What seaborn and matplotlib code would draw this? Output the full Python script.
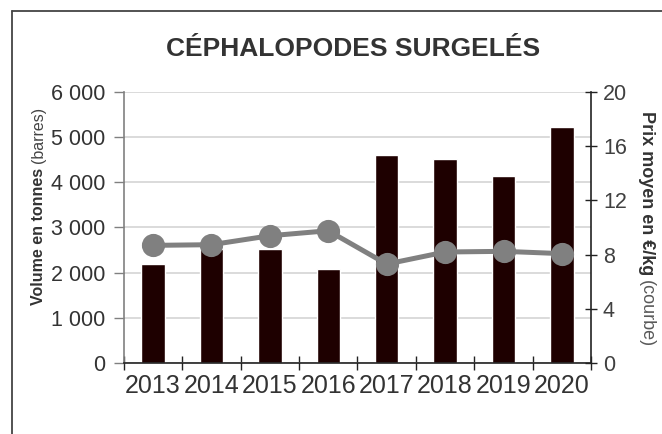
import matplotlib
matplotlib.use("Agg")
import matplotlib.pyplot as plt
import matplotlib.lines as mlines
import seaborn as sns

# données
annees = ["2013", "2014", "2015", "2016", "2017", "2018", "2019", "2020"]
volume_tonnes = [2200, 2530, 2530, 2090, 4600, 4510, 4130, 5235]
prix_kg = [8.68, 8.73, 9.39, 9.76, 7.30, 8.19, 8.24, 8.07]

sns.set_theme(style="white")
plt.rcParams["font.family"] = ["Liberation Sans", "DejaVu Sans"]

W, H = 662, 434
fig = plt.figure(figsize=(W / 100, H / 100), dpi=100)
ax = fig.add_axes([0.187, 0.1636, 0.706, 0.6245])

# barres : volume
sns.barplot(x=annees, y=volume_tonnes, ax=ax, color="#1e0000",
            width=0.4, saturation=1, zorder=2)
ax.set_ylim(0, 6000)
ax.set_yticks(range(0, 6001, 1000))
ax.set_yticklabels([f"{v:,}".replace(",", " ") for v in range(0, 6001, 1000)],
                   fontsize=15.5, color="#333333")
ax.grid(axis="y", color="#d4d4d4", linewidth=1.2, zorder=0)
ax.set_axisbelow(True)
ax.set_xlim(-0.5, 7.5)

# ticks x aux limites des catégories, libellés au centre
ax.set_xticks([i - 0.5 for i in range(9)])
ax.set_xticklabels([])
ax.set_xticks(range(8), minor=True)
ax.set_xticklabels(annees, minor=True, fontsize=18, color="#333333")
ax.tick_params(axis="x", which="major", direction="inout", length=10,
               width=1, color="#222222", bottom=True)
ax.tick_params(axis="x", which="minor", length=0, pad=8)
ax.tick_params(axis="y", direction="out", length=7, width=1,
               color="#808080", left=True, pad=6)
ax.set_xlabel("")

for s in ["top", "right"]:
    ax.spines[s].set_visible(False)
ax.spines["left"].set_color("#808080")
ax.spines["left"].set_linewidth(1.2)
ax.spines["bottom"].set_color("#222222")
ax.spines["bottom"].set_linewidth(1.2)

# courbe : prix moyen
ax2 = ax.twinx()
sns.pointplot(x=annees, y=prix_kg, ax=ax2, color="#808080",
              markersize=14, linewidth=3.6, zorder=3)
ax2.set_ylim(0, 20)
ax2.set_yticks(range(0, 21, 4))
ax2.set_yticklabels([str(v) for v in range(0, 21, 4)], fontsize=15.5,
                    color="#404040")
ax2.tick_params(axis="y", direction="inout", length=9, width=1,
                color="#222222", right=True, pad=4)
ax2.set_xlim(-0.5, 7.5)
ax2.grid(False)
for s in ["top", "left", "bottom"]:
    ax2.spines[s].set_visible(False)
ax2.spines["right"].set_color("#222222")
ax2.spines["right"].set_linewidth(1.2)

fig.suptitle("CÉPHALOPODES SURGELÉS", x=0.533, y=0.915, fontsize=19,
             fontweight="bold", color="#333333")

# titres des axes : partie grasse + partie normale, collées l'une à l'autre
def titre_axe(x, yc, gras, normal, rot, size, col_norm):
    t1 = fig.text(x, 0.5, gras, rotation=rot, fontsize=size, fontweight="bold",
                  color="#333333", ha="center", va="center")
    t2 = fig.text(x, 0.5, normal, rotation=rot, fontsize=size,
                  color=col_norm, ha="center", va="center")
    fig.canvas.draw()
    r = fig.canvas.get_renderer()
    h1 = t1.get_window_extent(r).height
    h2 = t2.get_window_extent(r).height
    gap = size * 0.35
    total = h1 + h2 + gap
    top = yc * H + total / 2
    if rot == 90:
        # lecture de bas en haut : gras en bas
        t1.set_y((top - total + h1 / 2) / H)
        t2.set_y((top - h2 / 2) / H)
    else:
        t1.set_y((top - h1 / 2) / H)
        t2.set_y((top - total + h2 / 2) / H)

titre_axe(0.058, 1 - 206 / H, "Volume en tonnes", "(barres)", 90, 11.5, "#444444")
titre_axe(0.977, 1 - 229 / H, "Prix moyen en €/kg", "(courbe)", -90, 13, "#595959")

# cadre partiel autour du graphique
fig.add_artist(mlines.Line2D([12 / W, 12 / W], [0, 1 - 11 / H],
                             color="#444444", linewidth=1.3))
fig.add_artist(mlines.Line2D([12 / W, 1], [1 - 11 / H, 1 - 11 / H],
                             color="#444444", linewidth=1.3))

fig.savefig("out.png", dpi=100)
